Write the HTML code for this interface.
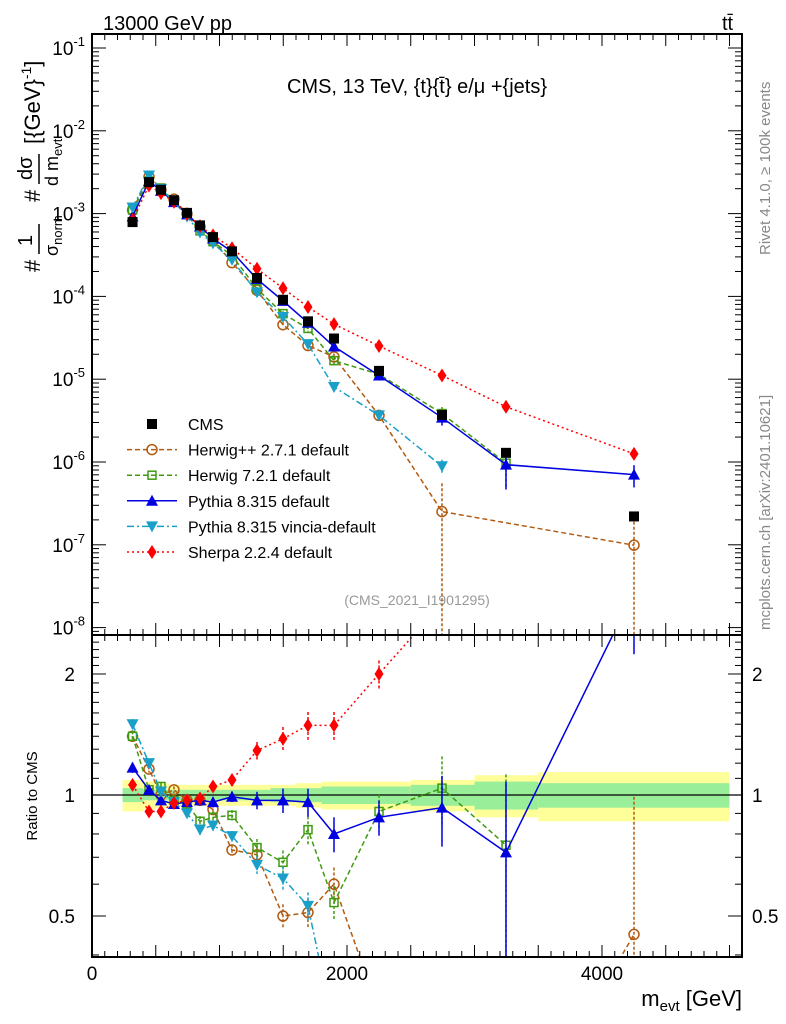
<!DOCTYPE html>
<html><head><meta charset="utf-8"><style>
html,body{margin:0;background:#fff;overflow:hidden;width:786px;height:1024px;}
svg{display:block;}
svg text{font-family:"Liberation Sans",sans-serif;}
</style></head><body>
<svg id="c" width="786" height="1024" viewBox="0 0 786 1024" xmlns="http://www.w3.org/2000/svg">
<text x="103" y="30" font-size="20">13000 GeV pp</text>
<text x="722" y="30" font-size="20">tt̄</text>
<text x="417" y="93" font-size="20" text-anchor="middle">CMS, 13 TeV, {t}{t̄} e/μ +{jets}</text>
<text x="417" y="605" font-size="14" fill="#999" text-anchor="middle">(CMS_2021_I1901295)</text>
<text transform="translate(770,255) rotate(-90)" font-size="15" fill="#888">Rivet 4.1.0, ≥ 100k events</text>
<text transform="translate(770,630) rotate(-90)" font-size="15" fill="#888">mcplots.cern.ch [arXiv:2401.10621]</text>
<g transform="translate(40,272) rotate(-90)">
<text x="0" y="0" font-size="22">#</text><text x="26" y="-8" font-size="20">1</text><line x1="18" x2="48" y1="-1" y2="-1" stroke="#000" stroke-width="1.5"/><text x="16" y="18" font-size="18">σ<tspan font-size="13" dy="4">norm</tspan></text>
<text x="70" y="0" font-size="22">#</text><text x="92" y="-8" font-size="20">dσ</text><line x1="88" x2="118" y1="-1" y2="-1" stroke="#000" stroke-width="1.5"/><text x="86" y="18" font-size="18">d m<tspan font-size="13" dy="4">evt</tspan></text>
<text x="128" y="0" font-size="22">[{GeV}<tspan font-size="14" dy="-9">-1</tspan><tspan dy="9">]</tspan></text>
</g>
<text transform="translate(37,796) rotate(-90)" font-size="15" text-anchor="middle">Ratio to CMS</text>
<text x="742" y="1006" font-size="22" text-anchor="end">m<tspan font-size="15" dy="5">evt</tspan><tspan dy="-5"> [GeV]</tspan></text>
</svg>
<script>
const NS="http://www.w3.org/2000/svg";
const svg=document.getElementById('c');
const centers=[318,447,541,643,745,847,949,1098,1294,1498,1694,1898,2251,2745,3247,4251];
const edges=[240,400,500,600,700,800,900,1000,1200,1400,1600,1800,2000,2500,3000,3500,5000];
const cmsValues=[7.9e-4,2.4e-3,1.94e-3,1.45e-3,1.02e-3,7.2e-4,5.2e-4,3.5e-4,1.67e-4,9.1e-5,5.0e-5,3.1e-5,1.26e-5,3.7e-6,1.29e-6,2.2e-7];
const bandYellow=[0.09,0.08,0.07,0.06,0.06,0.06,0.06,0.06,0.06,0.06,0.07,0.08,0.08,0.09,0.12,0.14];
const bandGreen=[0.04,0.03,0.03,0.03,0.03,0.03,0.03,0.03,0.03,0.04,0.04,0.05,0.05,0.06,0.08,0.07];
const herwigPPRatio=[1.40,1.16,1.00,1.03,0.97,0.97,0.92,0.73,0.71,0.50,0.51,0.60,0.29,0.068,null,0.45];
const herwig7Ratio=[1.40,1.03,1.05,0.97,0.95,0.86,0.88,0.89,0.74,0.68,0.82,0.54,0.91,1.04,0.75,null];
const pythiaRatio=[1.17,1.03,0.97,0.95,0.96,0.97,0.96,0.99,0.97,0.97,0.96,0.80,0.88,0.93,0.72,3.2];
const vinciaRatio=[1.50,1.20,1.02,0.96,0.90,0.82,0.84,0.79,0.67,0.62,0.53,0.26,0.29,0.24,null,null];
const sherpaRatio=[1.06,0.91,0.91,0.955,0.97,0.98,1.05,1.09,1.29,1.38,1.49,1.49,2.0,3.0,3.6,5.7];
const mcRelErr=[0.03,0.02,0.02,0.02,0.02,0.03,0.03,0.03,0.05,0.07,0.08,0.1,0.1,0.2,0.5,0.3];
const yTickExps=[-1,-2,-3,-4,-5,-6,-7,-8];
const xTickLabels=[0,2000,4000];
const ratioTicks=[0.5,1,2];

const L=92,R=742,T=34,MB=635,RB=957;
const X=v=>L+(v)*0.1275;
const Y=v=>48+(-1-Math.log10(v))*82.8;
const YR=v=>795-Math.log10(v)*402;
function el(t,a,p){const e=document.createElementNS(NS,t);for(const k in a)e.setAttribute(k,a[k]);(p||svg).appendChild(e);return e;}
const defs=el('defs',{});
const cp1=el('clipPath',{id:'cm'},defs);el('rect',{x:L,y:T,width:R-L,height:MB-T},cp1);
const cp2=el('clipPath',{id:'cr'},defs);el('rect',{x:L,y:MB,width:R-L,height:RB-MB},cp2);

const gBand=el('g',{'clip-path':'url(#cr)'});


for(let i=0;i<centers.length;i++){
  const x0=X(edges[i]),x1=X(edges[i+1]);
  el('rect',{x:x0,y:YR(1+bandYellow[i]),width:x1-x0,height:YR(1-bandYellow[i])-YR(1+bandYellow[i]),fill:'#ffff99'},gBand);
  el('rect',{x:x0,y:YR(1+bandGreen[i]),width:x1-x0,height:YR(1-bandGreen[i])-YR(1+bandGreen[i]),fill:'#99ee99'},gBand);
}
el('line',{x1:L,x2:R,y1:YR(1),y2:YR(1),stroke:'#000','stroke-width':1.2});

function marker(g,type,x,y,c){
  const s=5;
  if(type==='sq') el('rect',{x:x-s,y:y-s,width:2*s,height:2*s,fill:'#000'},g);
  if(type==='osq') el('rect',{x:x-s+1,y:y-s+1,width:2*s-2,height:2*s-2,fill:'none',stroke:c,'stroke-width':1.5},g);
  if(type==='oc') el('circle',{cx:x,cy:y,r:s,fill:'none',stroke:c,'stroke-width':1.5},g);
  if(type==='up') el('polygon',{points:`${x},${y-6} ${x-6},${y+5} ${x+6},${y+5}`,fill:c},g);
  if(type==='dn') el('polygon',{points:`${x},${y+6} ${x-6},${y-5} ${x+6},${y-5}`,fill:c},g);
  if(type==='di') el('polygon',{points:`${x},${y-7} ${x-4.5},${y} ${x},${y+7} ${x+4.5},${y}`,fill:c},g);
}
const series=[
 {name:'herwigpp',label:'Herwig++ 2.7.1 default',r:herwigPPRatio,c:'#b25a10',m:'oc',d:'5,3'},
 {name:'herwig7',label:'Herwig 7.2.1 default',r:herwig7Ratio,c:'#3f9a10',m:'osq',d:'5,3'},
 {name:'pythia',label:'Pythia 8.315 default',r:pythiaRatio,c:'#0000e0',m:'up',d:''},
 {name:'vincia',label:'Pythia 8.315 vincia-default',r:vinciaRatio,c:'#1aa0c8',m:'dn',d:'7,3,2,3'},
 {name:'sherpa',label:'Sherpa 2.2.4 default',r:sherpaRatio,c:'#ff0000',m:'di',d:'2,3'}
];
series.forEach(s=>{
  ['main','ratio'].forEach(panel=>{
    const g=el('g',{'clip-path':panel==='main'?'url(#cm)':'url(#cr)'});
    
    
    const yf=(i,v)=>panel==='main'?Y(v*cmsValues[i]):YR(v);
    let pts=[];
    s.r.forEach((v,i)=>{if(v!=null)pts.push([X(centers[i]),yf(i,v)]);});
    el('polyline',{points:pts.map(p=>p.join(',')).join(' '),fill:'none',stroke:s.c,'stroke-width':1.5,'stroke-dasharray':s.d},g);
    s.r.forEach((v,i)=>{
      if(v==null)return;
      const x=X(centers[i]);let e=mcRelErr[i];
      if(s.name==='sherpa')e=Math.min(e,0.08);
      if(s.name==='herwigpp'&&i>=13)e=1.2;
      const lo=Math.max(v*(1-e),1e-9);
      el('line',{x1:x,x2:x,y1:yf(i,v*(1+e)),y2:yf(i,lo),stroke:s.c,'stroke-width':1.5,'stroke-dasharray':s.d?'3,2':''},g);
      marker(g,s.m,x,yf(i,v),s.c);
    });
  });
});
const gc=el('g',{'clip-path':'url(#cm)'});


cmsValues.forEach((v,i)=>marker(gc,'sq',X(centers[i]),Y(v),'#000'));

el('rect',{x:L,y:T,width:R-L,height:MB-T,fill:'none',stroke:'#000','stroke-width':2});
el('rect',{x:L,y:MB,width:R-L,height:RB-MB,fill:'none',stroke:'#000','stroke-width':2});
for(let v=0;v<=5000;v+=100){
  const x=X(v);const len=v%500===0?12:6;
  [[T,1],[MB,-1],[MB,1],[RB,-1]].forEach(([y,d])=>el('line',{x1:x,x2:x,y1:y,y2:y+d*len,stroke:'#000'}));
}
xTickLabels.forEach(v=>{const t=el('text',{x:X(v),y:980,'font-size':19,'text-anchor':'middle'});t.textContent=v;

});
yTickExps.forEach(e=>{
  const y=Y(Math.pow(10,e));
  [[L,1],[R,-1]].forEach(([x,d])=>el('line',{x1:x,x2:x+d*14,y1:y,y2:y,stroke:'#000'}));
  for(let k=2;k<=9;k++){const yy=Y(k*Math.pow(10,e-1));if(yy<MB&&yy>T)[[L,1],[R,-1]].forEach(([x,d])=>el('line',{x1:x,x2:x+d*7,y1:yy,y2:yy,stroke:'#000'}));}
  const t=el('text',{x:85,y:y+7,'font-size':19,'text-anchor':'end'});
  
  
  t.innerHTML=`10<tspan font-size="13" dy="-9">${e}</tspan>`;
});
for(let k=4;k<=25;k++){const v=k/10;const y=YR(v);if(y<MB||y>RB)continue;
  const major=(v===0.5||v===1||v===2);
  [[L,1],[R,-1]].forEach(([x,d])=>el('line',{x1:x,x2:x+d*(major?14:7),y1:y,y2:y,stroke:'#000'}));}
ratioTicks.forEach(v=>{
  [[75,'end'],[752,'start']].forEach(([x,a])=>{const t=el('text',{x:x,y:YR(v)+7,'font-size':19,'text-anchor':a});t.textContent=v;
  
  });
});
const lg=el('g',{});


const rows=[{label:'CMS',m:'sq',c:'#000',d:null}].concat(series.map(s=>({label:s.label,m:s.m,c:s.c,d:s.d})));
rows.forEach((r,i)=>{
  const y=424+i*25.6;
  const g=el('g',{},lg);
  
  
  if(r.d!==null)el('line',{x1:127,x2:177,y1:y,y2:y,stroke:r.c,'stroke-width':1.5,'stroke-dasharray':r.d},g);
  marker(g,r.m,152,y,r.c);
  const t=el('text',{x:188,y:y+6,'font-size':16},g);t.textContent=r.label;
});
</script>
</body></html>
